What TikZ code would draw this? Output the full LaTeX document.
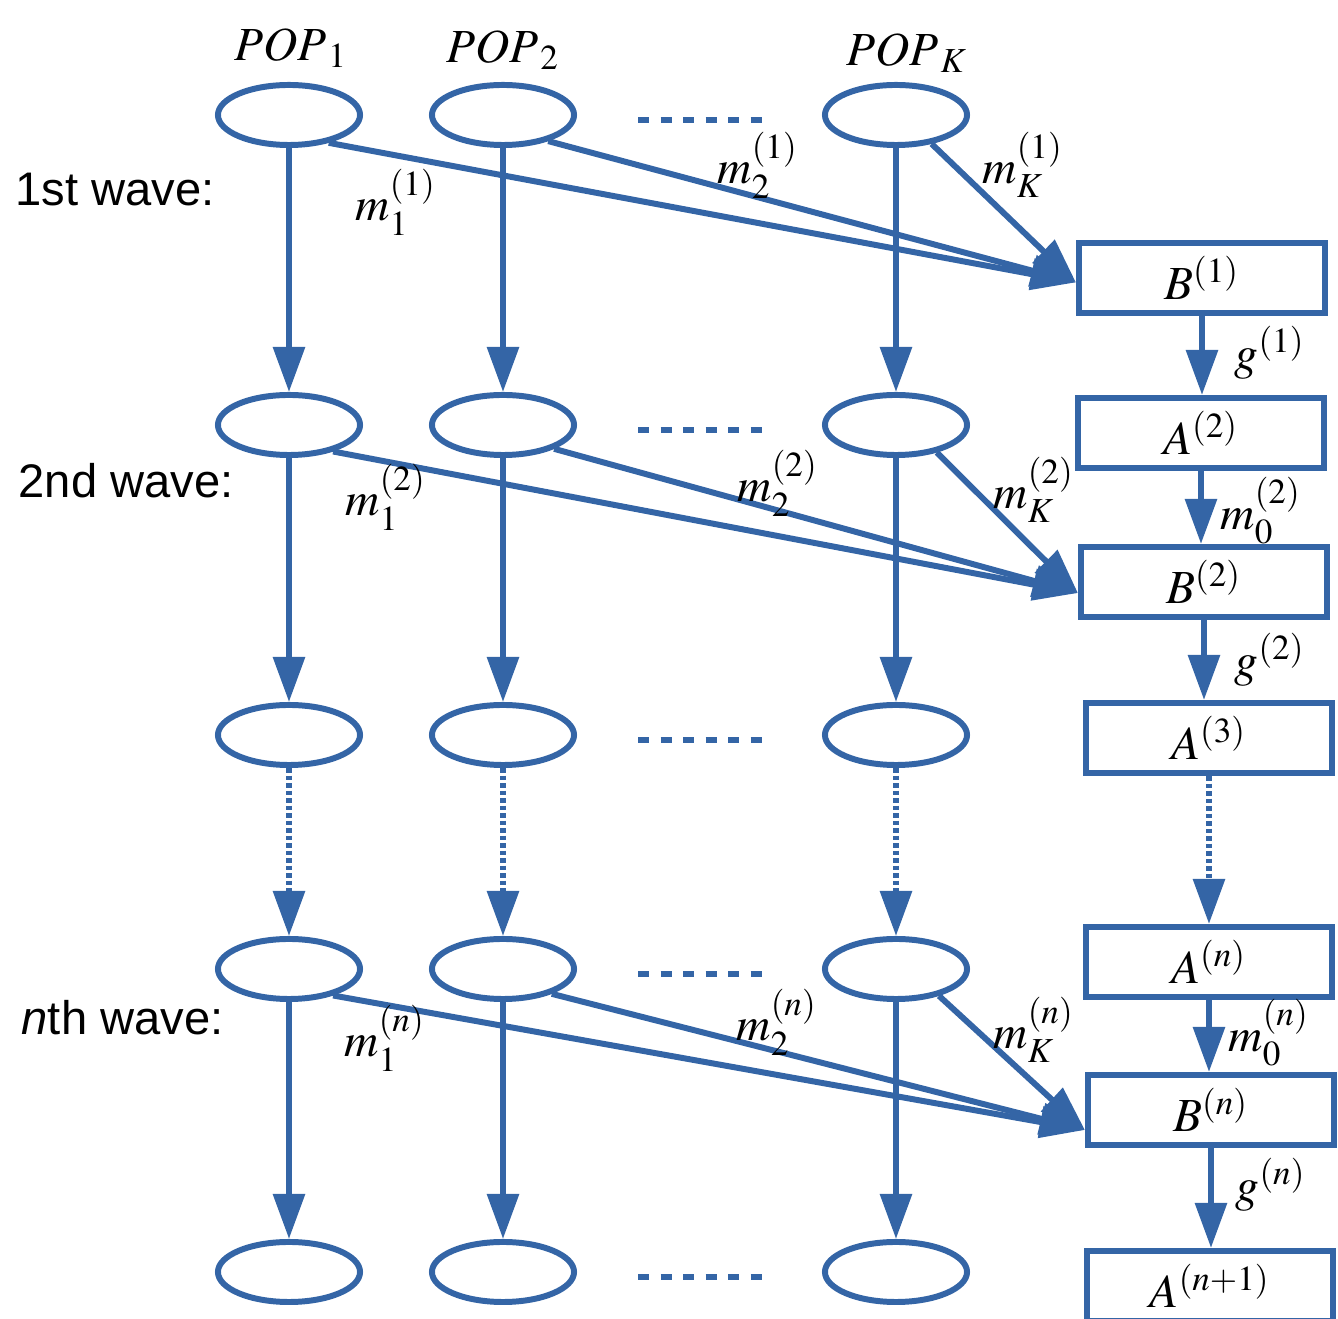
\documentclass[tikz,border=0pt]{standalone}
\usepackage{mathptmx}
\usepackage[no-math]{fontspec}
\setsansfont{Liberation Sans}
\usepackage{tikz}
\usetikzlibrary{positioning, arrows.meta, shapes.geometric}
\definecolor{popblue}{RGB}{52,101,166}

\begin{document}
\begin{tikzpicture}[x=0.01cm, y=-0.01cm,
		pop/.style={ellipse, draw=popblue, line width=1.7pt, minimum width=1.42cm, minimum height=0.60cm, inner sep=0pt},
		stage/.style={rectangle, draw=popblue, line width=1.7pt, minimum width=2.46cm, minimum height=0.70cm, inner sep=0pt, font=\fontsize{13.5}{16}\selectfont},
		flow/.style={draw=popblue, line width=1.7pt, -{Triangle[length=0.45cm, width=0.31cm]}},
		skip/.style={flow, dash pattern=on 0.045cm off 0.03cm},
		gap/.style={draw=popblue, line width=1.7pt, dash pattern=on 0.11cm off 0.115cm, shorten <=0.61cm, shorten >=0.60cm, transform canvas={yshift=-0.05cm}},
		lab/.style={font=\fontsize{13.5}{16}\selectfont},
		wave/.style={anchor=west, inner sep=0pt, font=\sffamily\fontsize{13.4}{16}\selectfont}]
		\useasboundingbox (0,0) rectangle (1338,1319);
		
		% populations, one row per wave
		\foreach \r/\y in {1/115, 2/425, 3/735, 4/969, 5/1272} {
			\foreach \c/\x in {1/289, 2/503, K/896} {
				\node[pop] (p\c-\r) at (\x,\y) {};
			}
			\draw[gap] (p2-\r) -- (pK-\r);
		}
		
		\node[lab] at (291,48) {$POP_{\;1}$};
		\node[lab] at (503,50) {$POP_{\;2}$};
		\node[lab] at (907,53) {$POP_{\;K}$};
		
		\node[wave] at (15,190) {1st wave:};
		\node[wave] at (18,481) {2nd wave:};
		\node[wave] at (21,1018) {\textit{n}th wave:};
		
		% boxes on the right
		\node[stage] (B1) at (1202,278) {$B^{(1)}$};
		\node[stage] (A2) at (1201,433) {$A^{(2)}$};
		\node[stage] (B2) at (1204,582) {$B^{(2)}$};
		\node[stage] (A3) at (1209,738) {$A^{(3)}$};
		\node[stage] (An) at (1209,962) {$A^{(n)}$};
		\node[stage] (Bn) at (1211,1110) {$B^{(n)}$};
		\node[stage] (An1) at (1210,1286) {$A^{(n+1)}$};
		
		% waves going down
		\foreach \c in {1, 2, K} {
			\draw[flow] (p\c-1) -- (p\c-2);
			\draw[flow] (p\c-2) -- (p\c-3);
			\draw[skip] (p\c-3) -- (p\c-4);
			\draw[flow] (p\c-4) -- (p\c-5);
		}
		
		% migrants into the B boxes
		\draw[flow] (p1-1.-35) -- (B1.182);
		\draw[flow] (p2-1.-30) -- (B1.182);
		\draw[flow] (pK-1.-39) -- (B1.182);
		\draw[flow] (p1-2.-31) -- (B2.185);
		\draw[flow] (p2-2.-25) -- (B2.185);
		\draw[flow] (pK-2.-34) -- (B2.185);
		\draw[flow] (p1-4.-31) -- (Bn.189);
		\draw[flow] (p2-4.-27) -- (Bn.189);
		\draw[flow] (pK-4.-32) -- (Bn.189);
		
		\draw[flow] (B1.south) -- (B1.south |- A2.north);
		\draw[flow] (A2.south) -- (A2.south |- B2.north);
		\draw[flow] (B2.south) -- (B2.south |- A3.north);
		\draw[skip] (A3.south) -- (A3.south |- An.north);
		\draw[flow] (An.south) -- (An.south |- Bn.north);
		\draw[flow] (Bn.south) -- (Bn.south |- An1.north);
		
		\node[lab] at (396,202) {$m_1^{(1)}$};
		\node[lab] at (758,165) {$m_2^{(1)}$};
		\node[lab] at (1023,165) {$m_K^{(1)}$};
		\node[lab] at (1270,353) {$g^{(1)}$};
		\node[lab] at (386,497) {$m_1^{(2)}$};
		\node[lab] at (778,483) {$m_2^{(2)}$};
		\node[lab] at (1034,490) {$m_K^{(2)}$};
		\node[lab] at (1261,511) {$m_0^{(2)}$};
		\node[lab] at (1270,660) {$g^{(2)}$};
		\node[lab] at (385,1038) {$m_1^{(n)}$};
		\node[lab] at (777,1022) {$m_2^{(n)}$};
		\node[lab] at (1034,1030) {$m_K^{(n)}$};
		\node[lab] at (1269,1033) {$m_0^{(n)}$};
		\node[lab] at (1271,1185) {$g^{(n)}$};
	\end{tikzpicture}
\end{document}
